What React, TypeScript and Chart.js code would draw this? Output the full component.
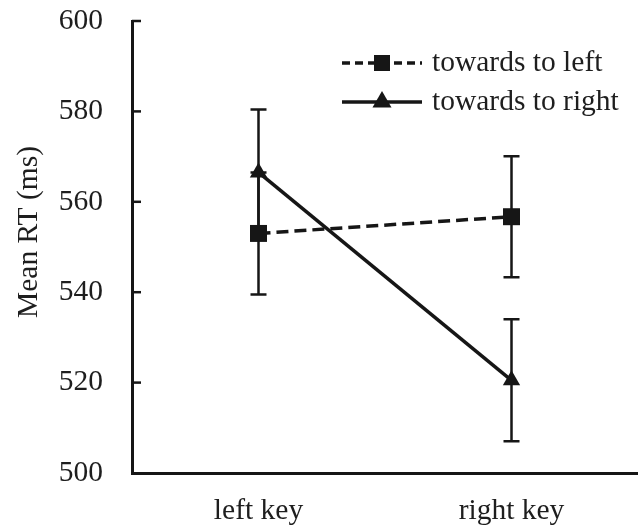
import React, { useEffect, useRef } from "react";
import { Chart, registerables } from "chart.js";

Chart.register(...registerables);

const categories = ["left key", "right key"];
const seriesNames = ["towards to left", "towards to right"];
const towardsLeft = [553, 556.7];
const towardsLeftErr = [13.5, 13.4];
const towardsRight = [566.5, 520.5];
const towardsRightErr = [13.9, 13.5];
const yTicks = [500, 520, 540, 560, 580, 600];
const yTitle = "Mean RT (ms)";

const INK = "#161616";
const TEXT = "#1e1e1e";
const FONT = "'Liberation Serif', 'Times New Roman', serif";
const FS = 29.5;

const errorBarPlugin = {
  id: "errorBars",
  beforeDatasetsDraw(chart: any) {
    const ctx = chart.ctx;
    const xs = chart.scales.x;
    const ys = chart.scales.y;
    const errs = [towardsLeftErr, towardsRightErr];
    const vals = [towardsLeft, towardsRight];
    ctx.save();
    ctx.strokeStyle = INK;
    ctx.lineWidth = 2.5;
    vals.forEach((arr, si) => {
      arr.forEach((v, i) => {
        const x = xs.getPixelForValue(i);
        const yTop = ys.getPixelForValue(v + errs[si][i]);
        const yBot = ys.getPixelForValue(v - errs[si][i]);
        ctx.beginPath();
        ctx.moveTo(x, yTop);
        ctx.lineTo(x, yBot);
        ctx.moveTo(x - 8, yTop);
        ctx.lineTo(x + 8, yTop);
        ctx.moveTo(x - 8, yBot);
        ctx.lineTo(x + 8, yBot);
        ctx.stroke();
      });
    });
    ctx.restore();
  },
  afterDraw(chart: any) {
    const ctx = chart.ctx;
    const ys = chart.scales.y;
    const left = chart.chartArea.left;
    ctx.save();
    ctx.strokeStyle = INK;
    ctx.lineWidth = 2.5;
    yTicks.forEach((t) => {
      if (t === 500) return;
      const y = ys.getPixelForValue(t);
      ctx.beginPath();
      ctx.moveTo(left, y);
      ctx.lineTo(left + 9, y);
      ctx.stroke();
    });
    const lx0 = 342;
    const lx1 = 422;
    const mx = 382;
    const rows = [63, 102];
    ctx.lineWidth = 3.5;
    ctx.setLineDash([8, 5]);
    ctx.beginPath();
    ctx.moveTo(lx0, rows[0]);
    ctx.lineTo(lx1, rows[0]);
    ctx.stroke();
    ctx.setLineDash([]);
    ctx.fillStyle = INK;
    ctx.fillRect(mx - 8, rows[0] - 8, 16, 16);
    ctx.beginPath();
    ctx.moveTo(lx0, rows[1]);
    ctx.lineTo(lx1, rows[1]);
    ctx.stroke();
    const r = 11;
    ctx.beginPath();
    ctx.moveTo(mx, rows[1] - r);
    ctx.lineTo(mx + r * 0.866, rows[1] + r / 2);
    ctx.lineTo(mx - r * 0.866, rows[1] + r / 2);
    ctx.closePath();
    ctx.fill();
    ctx.fillStyle = TEXT;
    ctx.font = `${FS}px ${FONT}`;
    ctx.textBaseline = "middle";
    ctx.textAlign = "left";
    ctx.fillText(seriesNames[0], 432, rows[0]);
    ctx.fillText(seriesNames[1], 432, rows[1]);
    // y-axis title
    ctx.translate(29, 232);
    ctx.rotate(-Math.PI / 2);
    ctx.textAlign = "center";
    ctx.fillText(yTitle, 0, 0);
    ctx.restore();
  },
};

export default function App() {
  const ref = useRef<HTMLCanvasElement | null>(null);
  useEffect(() => {
    document.body.style.margin = "0";
    if (!ref.current) return;
    const chart = new Chart(ref.current, {
      type: "line",
      data: {
        labels: categories,
        datasets: [
          {
            label: seriesNames[0],
            data: towardsLeft,
            borderColor: INK,
            backgroundColor: INK,
            borderWidth: 3.5,
            borderDash: [12, 6],
            pointStyle: "rect",
            pointRadius: 12,
            pointBackgroundColor: INK,
            pointBorderWidth: 0,
            tension: 0,
          },
          {
            label: seriesNames[1],
            data: towardsRight,
            borderColor: INK,
            backgroundColor: INK,
            borderWidth: 3.5,
            pointStyle: "triangle",
            pointRadius: 10,
            pointBackgroundColor: INK,
            pointBorderWidth: 0,
            tension: 0,
          },
        ],
      },
      options: {
        responsive: false,
        animation: false,
        layout: { autoPadding: false, padding: { top: 21, left: 0, right: 0, bottom: 0 } },
        plugins: {
          legend: { display: false },
          tooltip: { enabled: false },
        },
        scales: {
          x: {
            type: "category",
            offset: true,
            grid: { display: false, drawTicks: false },
            border: { display: true, color: INK, width: 3 },
            ticks: {
              color: TEXT,
              padding: 21,
              font: { family: FONT, size: FS },
              maxRotation: 0,
            },
            afterFit: (s: any) => {
              s.height = 53;
              s.paddingLeft = 0;
              s.paddingRight = 0;
            },
          },
          y: {
            min: 500,
            max: 600,
            grid: { display: false, drawTicks: false },
            border: { display: true, color: INK, width: 3 },
            afterBuildTicks: (s: any) => {
              s.ticks = yTicks.map((v) => ({ value: v }));
            },
            ticks: {
              color: TEXT,
              padding: 29,
              font: { family: FONT, size: FS },
            },
            title: { display: false },
            afterFit: (s: any) => {
              s.width = 132;
              s.paddingTop = 0;
              s.paddingBottom = 0;
            },
          },
        },
      },
      plugins: [errorBarPlugin],
    });
    return () => chart.destroy();
  }, []);
  return (
    <div style={{ width: 638, height: 526 }}>
      <canvas ref={ref} width={638} height={526} />
    </div>
  );
}
